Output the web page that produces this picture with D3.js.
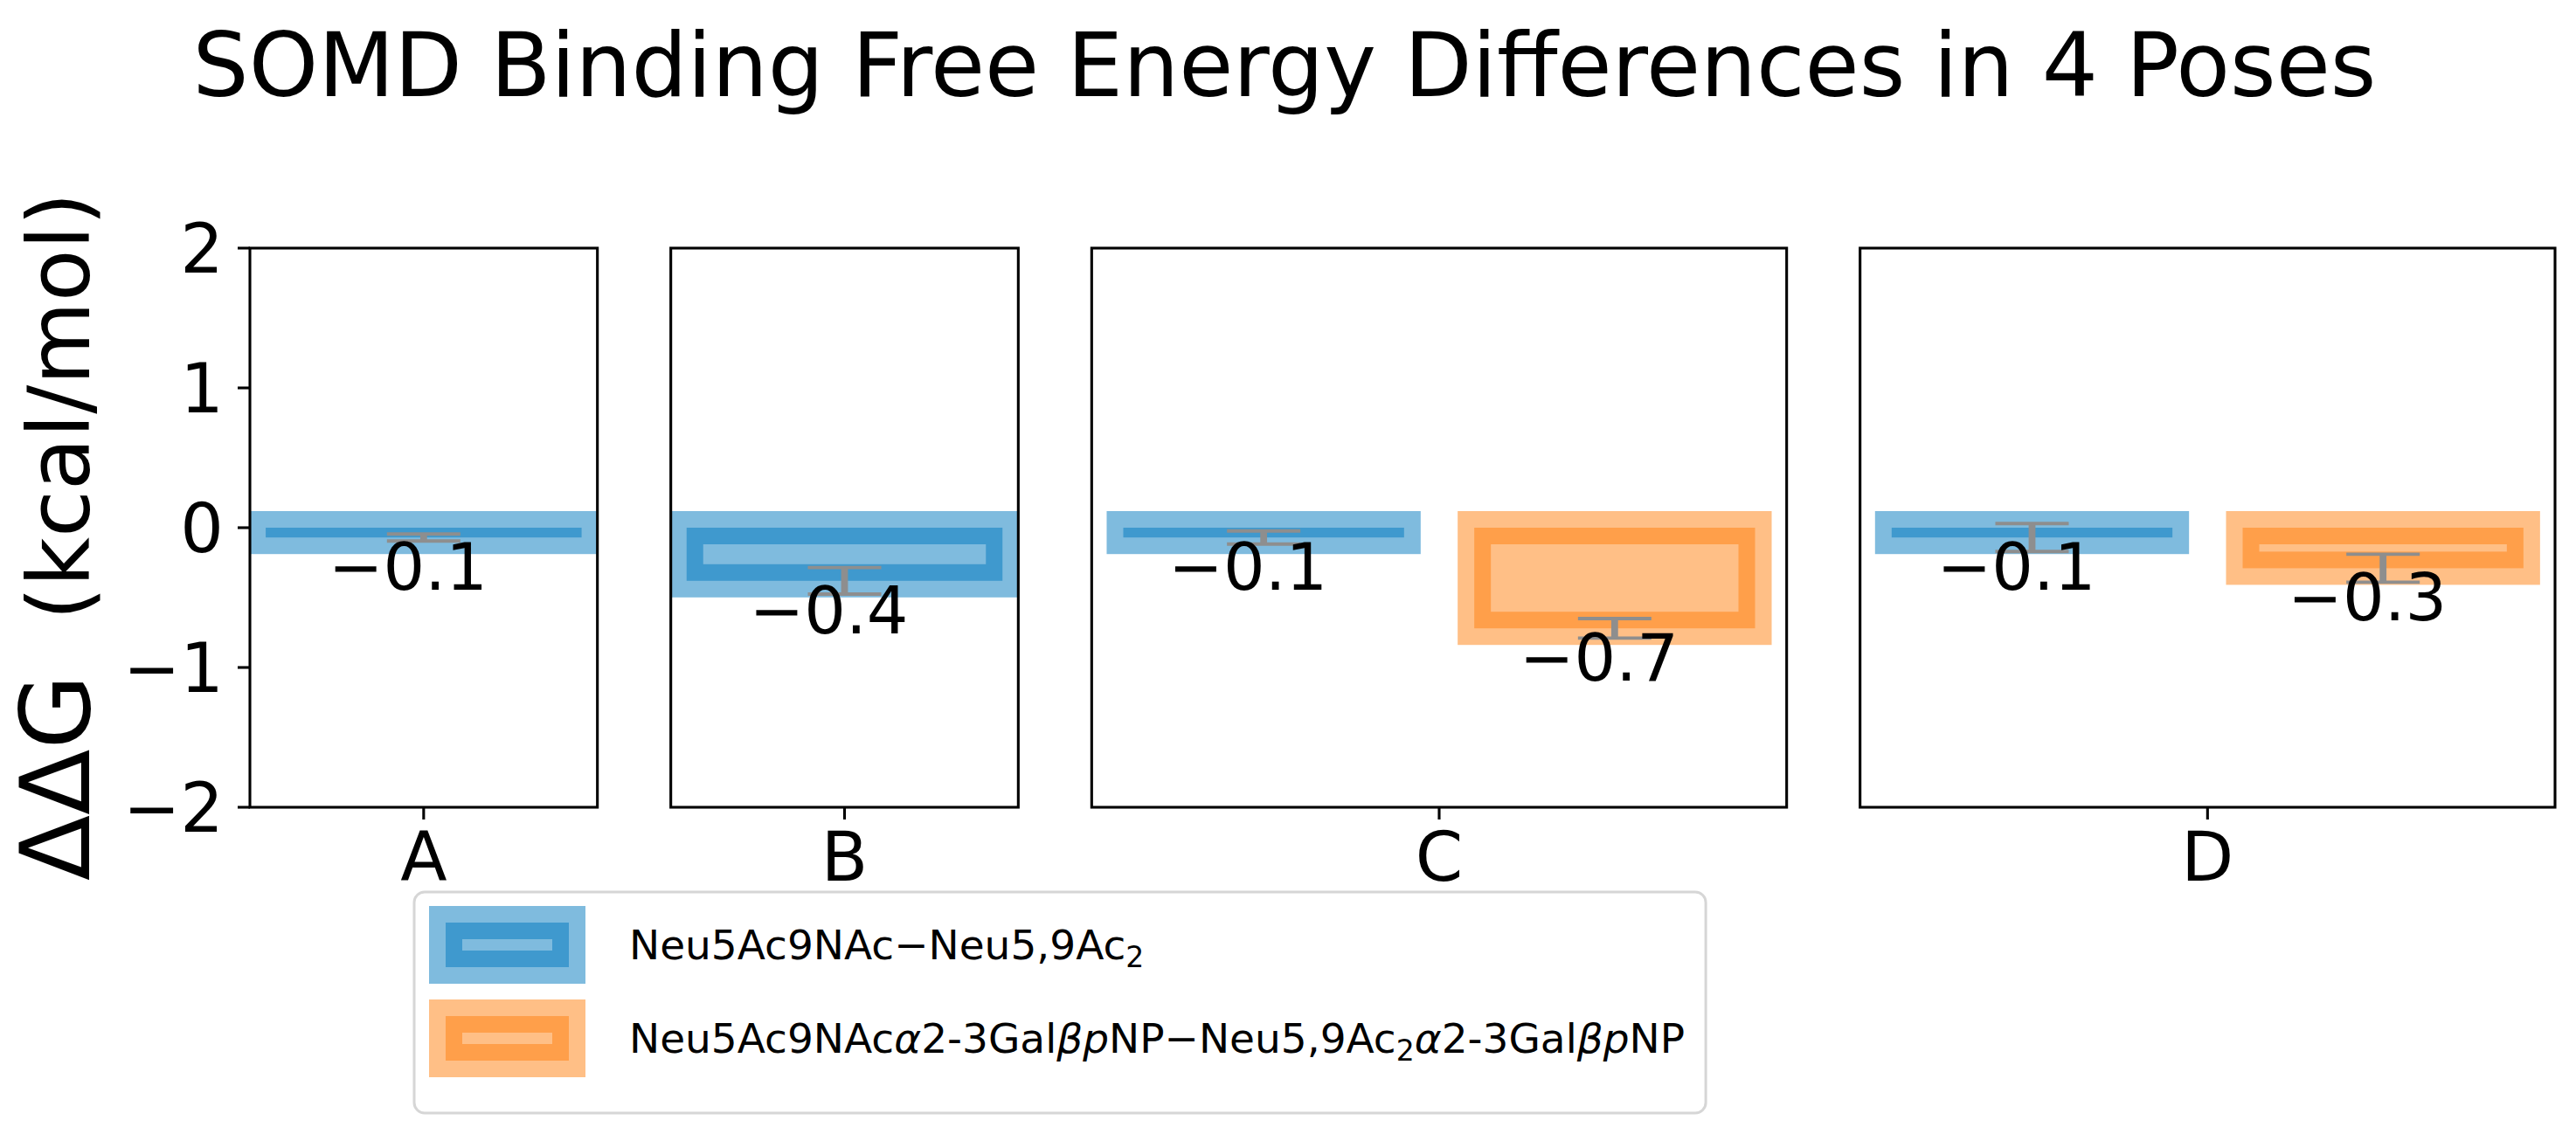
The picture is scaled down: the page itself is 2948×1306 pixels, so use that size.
<!DOCTYPE html>
<html>
<head>
<meta charset="utf-8">
<script src="https://cdn.jsdelivr.net/npm/d3@7"></script>
<style>
  body { margin: 0; background: #fff; }
  text { font-family: "DejaVu Sans", sans-serif; }
</style>
</head>
<body>
<div id="chart"></div>
<script>
// chart values
const poses = ["A", "B", "C", "D"];
const barsPerPose = [1, 1, 2, 2];
const neu5Values = [-0.07, -0.38, -0.07, -0.07];
const neu5Errors = [0.025, 0.095, 0.047, 0.10];
const galValues = [null, null, -0.72, -0.29];
const galErrors = [null, null, 0.07, 0.10];
const yTicks = [-2, -1, 0, 1, 2];

const seriesColors = ["#0078be", "#ff7f0e"];

const width = 2948, height = 1306;
const plotLeft = 286, plotRight = 2924, plotTop = 284, plotBottom = 924;
const gap = 84;

const svg = d3.select("#chart").append("svg")
    .attr("width", width)
    .attr("height", height);

// title
svg.append("text")
    .attr("x", 1470)
    .attr("y", 110)
    .attr("text-anchor", "middle")
    .style("font-size", "101px")
    .text("SOMD Binding Free Energy Differences in 4 Poses");

// y label
const ylab = svg.append("text")
    .attr("transform", "translate(102,614) rotate(-90)")
    .attr("text-anchor", "middle");
ylab.append("tspan").style("font-size", "110px").text("ΔΔG");
ylab.append("tspan").style("font-size", "98px").text("\u00a0\u00a0(kcal/mol)");

const y = d3.scaleLinear().domain([-2, 2]).range([plotBottom, plotTop]);

// panel positions from width ratios
const unit = (plotRight - plotLeft - gap * (poses.length - 1)) / d3.sum(barsPerPose);
let cursor = plotLeft;
const panels = poses.map((p, i) => {
    const w = unit * barsPerPose[i];
    const panel = {pose: p, i, x0: cursor, x1: cursor + w};
    cursor += w + gap;
    return panel;
});

const fmt = d3.format(".1f");
const barW = 0.8, strokeW = 38;

panels.forEach(pn => {
    const n = barsPerPose[pn.i];
    const pad = 0.05 * (n - 1 + barW);
    const x = d3.scaleLinear()
        .domain([-barW / 2 - pad, n - 1 + barW / 2 + pad])
        .range([pn.x0, pn.x1]);

    const g = svg.append("g");
    const clipId = "clip" + pn.i;
    g.append("clipPath").attr("id", clipId)
        .append("rect")
        .attr("x", pn.x0).attr("y", plotTop)
        .attr("width", pn.x1 - pn.x0).attr("height", plotBottom - plotTop);

    const bars = [{v: neu5Values[pn.i], e: neu5Errors[pn.i], s: 0, k: 0}];
    if (galValues[pn.i] != null) bars.push({v: galValues[pn.i], e: galErrors[pn.i], s: 1, k: 1});

    const inner = g.append("g").attr("clip-path", `url(#${clipId})`);
    inner.selectAll("rect.bar")
        .data(bars)
        .enter().append("rect")
        .attr("class", "bar")
        .attr("x", d => x(d.k - barW / 2))
        .attr("width", d => x(d.k + barW / 2) - x(d.k - barW / 2))
        .attr("y", d => y(Math.max(0, d.v)))
        .attr("height", d => Math.abs(y(d.v) - y(0)))
        .attr("fill", d => seriesColors[d.s])
        .attr("fill-opacity", 0.5)
        .attr("stroke", d => seriesColors[d.s])
        .attr("stroke-opacity", 0.5)
        .attr("stroke-width", strokeW);

    // error bars
    const capHalf = 42;
    bars.forEach(d => {
        const cx = x(d.k);
        inner.append("line")
            .attr("x1", cx).attr("x2", cx)
            .attr("y1", y(d.v + d.e)).attr("y2", y(d.v - d.e))
            .attr("stroke", "#8e8e8e").attr("stroke-width", 7.8);
        [d.v + d.e, d.v - d.e].forEach(t => {
            inner.append("line")
                .attr("x1", cx - capHalf).attr("x2", cx + capHalf)
                .attr("y1", y(t)).attr("y2", y(t))
                .attr("stroke", "#8e8e8e").attr("stroke-width", 3.9);
        });
    });

    // value labels
    g.selectAll("text.val")
        .data(bars)
        .enter().append("text")
        .attr("class", "val")
        .attr("x", d => x(d.k) - 18)
        .attr("y", d => y(d.v) + 60)
        .attr("text-anchor", "middle")
        .style("font-size", "75px")
        .text(d => fmt(d.v));

    // frame
    g.append("rect")
        .attr("x", pn.x0).attr("y", plotTop)
        .attr("width", pn.x1 - pn.x0).attr("height", plotBottom - plotTop)
        .attr("fill", "none").attr("stroke", "#000").attr("stroke-width", 3.1);

    // x tick at centre of the pose
    const xc = x((n - 1) / 2);
    g.append("line")
        .attr("x1", xc).attr("x2", xc)
        .attr("y1", plotBottom).attr("y2", plotBottom + 14)
        .attr("stroke", "#000").attr("stroke-width", 3.1);
    g.append("text")
        .attr("x", xc).attr("y", plotBottom + 84)
        .attr("text-anchor", "middle")
        .style("font-size", "78px")
        .text(pn.pose);

    if (pn.i === 0) {
        const yAxis = g.append("g");
        yTicks.forEach(t => {
            yAxis.append("line")
                .attr("x1", pn.x0 - 14).attr("x2", pn.x0)
                .attr("y1", y(t)).attr("y2", y(t))
                .attr("stroke", "#000").attr("stroke-width", 3.1);
            yAxis.append("text")
                .attr("x", pn.x0 - 30).attr("y", y(t))
                .attr("dy", "0.36em")
                .attr("text-anchor", "end")
                .style("font-size", "78px")
                .text(d3.format("d")(t));
        });
    }
});

// legend
const legend = svg.append("g");
legend.append("rect")
    .attr("x", 474).attr("y", 1021)
    .attr("width", 1259).attr("height", 253)
    .attr("rx", 12)
    .attr("fill", "#fff").attr("fill-opacity", 0.8)
    .attr("stroke", "#d6d6d6").attr("stroke-width", 3);

// each row: [text, kind] where kind is "n" normal, "i" italic, "s" subscript
const legendRows = [
    [["Neu5Ac9NAc−Neu5,9Ac", "n"], ["2", "s"]],
    [["Neu5Ac9NAc", "n"], ["α", "i"], ["2-3Gal", "n"], ["β", "i"], ["p", "i"], ["NP−Neu5,9Ac", "n"], ["2", "s"],
     ["α", "i"], ["2-3Gal", "n"], ["β", "i"], ["p", "i"], ["NP", "n"]]
];

legendRows.forEach((row, i) => {
    const cy = 1081 + i * 107;
    legend.append("rect")
        .attr("x", 510).attr("y", cy - 25)
        .attr("width", 141).attr("height", 51)
        .attr("fill", seriesColors[i]).attr("fill-opacity", 0.5)
        .attr("stroke", seriesColors[i]).attr("stroke-opacity", 0.5)
        .attr("stroke-width", strokeW);
    const t = legend.append("text")
        .attr("x", 720).attr("y", cy + 17)
        .style("font-size", "47px");
    row.forEach(([s, kind], j) => {
        const ts = t.append("tspan").text(s);
        if (kind === "i") ts.style("font-style", "italic");
        if (kind === "s") ts.style("font-size", "33px").attr("dy", 9);
        else if (j > 0 && row[j - 1][1] === "s") ts.attr("dy", -9);
    });
});

// legend width follows its longest label
const longest = d3.max(legend.selectAll("text").nodes(), n => n.getComputedTextLength());
legend.select("rect").attr("width", 720 + longest + 24 - 474);
</script>
</body>
</html>
